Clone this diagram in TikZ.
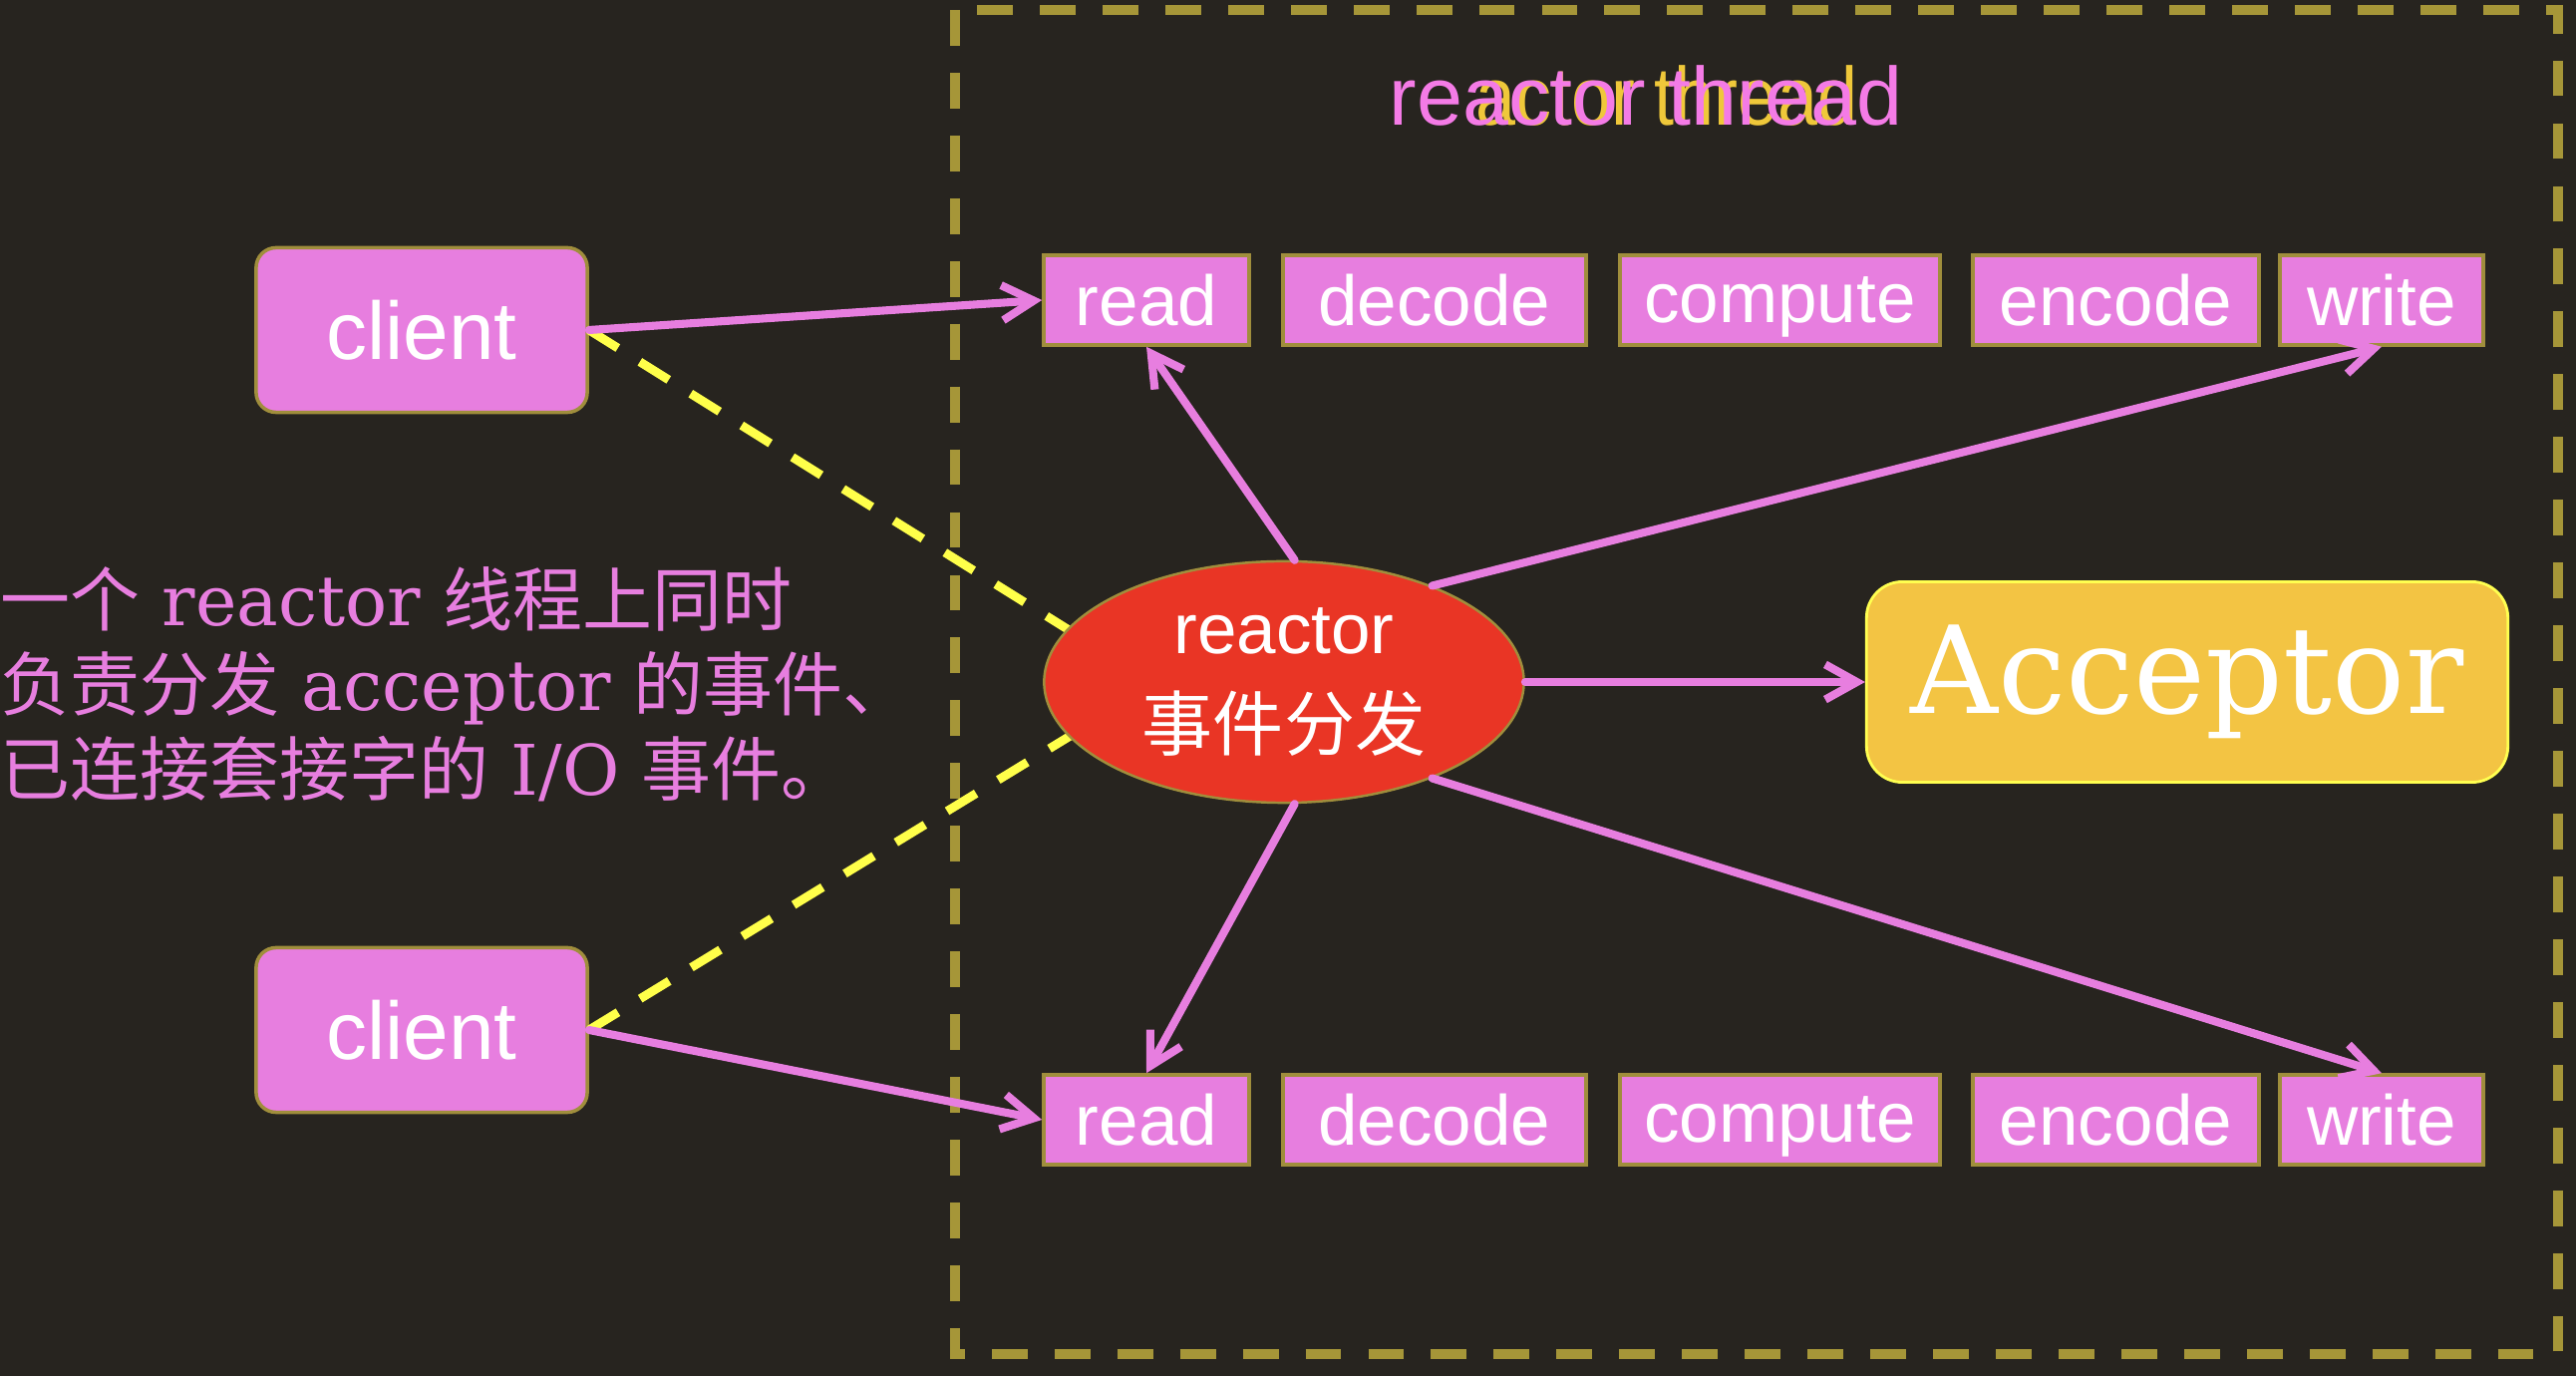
\documentclass[tikz,border=0pt]{standalone}
\usepackage{graphicx}
\usepackage{fontspec}
\setmainfont{DejaVu Serif}
\setsansfont{Liberation Sans}
\newfontfamily\cjk{Noto Sans CJK SC}
\usepackage{tikz}
\usetikzlibrary{shapes.geometric, arrows.meta}
\usepackage{xcolor}

\definecolor{bgdark}{HTML}{27241F}
\definecolor{pinkfill}{HTML}{E77EDF}
\definecolor{titlepink}{HTML}{F47BE6}
\definecolor{titleyellow}{HTML}{EFC83A}
\definecolor{stageline}{HTML}{A08E3C}
\definecolor{frameolive}{HTML}{A69638}
\definecolor{reactorred}{HTML}{E93525}
\definecolor{acceptorfill}{HTML}{F3C443}
\definecolor{acceptorline}{HTML}{FFFF50}
\definecolor{dashyellow}{HTML}{FFFF4A}

\begin{document}
\begin{tikzpicture}[
    x=0.01cm, y=-0.01cm,
    stage/.style={draw=stageline, line width=1pt, fill=pinkfill, text=white,
        minimum height=0.9cm, inner sep=0pt, text depth=0pt,
        font=\sffamily\fontsize{20.2}{24}\selectfont},
    client/.style={draw=stageline, line width=1pt, fill=pinkfill, text=white,
        rounded corners=0.2cm, minimum width=3.32cm, minimum height=1.65cm,
        font=\sffamily\fontsize{23.3}{28}\selectfont},
    dispatcher/.style={ellipse, draw=stageline, line width=0.7pt, fill=reactorred,
        minimum width=4.81cm, minimum height=2.42cm, inner sep=0pt, text=white,
        align=center, font=\sffamily\fontsize{20.2}{27.6}\selectfont},
    acceptorbox/.style={draw=acceptorline, line width=0.8pt, fill=acceptorfill,
        rounded corners=0.36cm, minimum width=6.43cm, minimum height=2.01cm,
        text=white, font=\fontsize{34.6}{42}\selectfont},
    link/.style={draw=pinkfill, line width=2.3pt, line cap=round,
        -{Straight Barb[length=9pt,width=10pt]}},
    watch/.style={draw=dashyellow, line width=2.5pt, dash pattern=on 9.7pt off 7.4pt}
]
    % page and background
    \useasboundingbox (0,0) rectangle (2584,1380);
    \fill[bgdark] (0,0) rectangle (2584,1380);

    % dashed frame of the reactor thread
    \draw[frameolive, line width=2.6pt, dash pattern=on 10.2pt off 7.7pt]
        (958,10) rectangle (2566,1358);

    % title, two texts on top of each other
    \node[anchor=base, inner sep=0pt, text=titleyellow,
        font=\sffamily\fontsize{23.5}{28}\selectfont] (titleback) at (1672,126)
        {\scalebox{0.87}[1]{actor thread}};
    \node[anchor=base, inner sep=0pt, text=titlepink,
        font=\sffamily\fontsize{23.5}{28}\selectfont] (title) at (1651,126)
        {reactor thread};

    % note on the left
    \node[anchor=west, align=left, inner sep=0pt, text=pinkfill,
        font=\fontsize{19.9}{24.2}\selectfont] (note) at (0,686)
        {{\cjk 一个} reactor {\cjk 线程上同时}\\
         {\cjk 负责分发} acceptor {\cjk 的事件、}\\
         {\cjk 已连接套接字的} I/O {\cjk 事件。}};

    % clients
    \node[client] (client1) at (423,331) {client};
    \node[client] (client2) at (423,1033) {client};

    % the yellow lines run under the dispatcher
    \coordinate (hubup) at (1090,643);
    \coordinate (hubdown) at (1090,728);
    \draw[watch] (client1.east) -- (hubup);
    \draw[watch] (client2.east) -- (hubdown);

    % stages of the two connections
    \node[stage, minimum width=2.06cm] (read1) at (1150,301) {read};
    \node[stage, minimum width=3.04cm] (decode1) at (1439,301) {decode};
    \node[stage, minimum width=3.21cm] (compute1) at (1785.5,301) {compute};
    \node[stage, minimum width=2.87cm] (encode1) at (2122.5,301) {encode};
    \node[stage, minimum width=2.04cm] (write1) at (2389,301) {write};

    \node[stage, minimum width=2.06cm] (read2) at (1150,1123) {read};
    \node[stage, minimum width=3.04cm] (decode2) at (1439,1123) {decode};
    \node[stage, minimum width=3.21cm] (compute2) at (1785.5,1123) {compute};
    \node[stage, minimum width=2.87cm] (encode2) at (2122.5,1123) {encode};
    \node[stage, minimum width=2.04cm] (write2) at (2389,1123) {write};

    % dispatcher and acceptor
    \node[dispatcher] (disp) at (1288,684) {reactor\\{\cjk 事件分发}};
    \node[acceptorbox] (acc) at (2194,684) {Acceptor};

    \path
        (client1.east) edge[link] (read1.west)
        (client2.east) edge[link] (read2.west)
        (disp.85) edge[link] (read1.south)
        (disp.-85) edge[link] (read2.north)
        (disp.33) edge[link] (write1.south)
        (disp.-33) edge[link] (write2.north)
        (disp.east) edge[link] (acc.west);
\end{tikzpicture}
\end{document}
